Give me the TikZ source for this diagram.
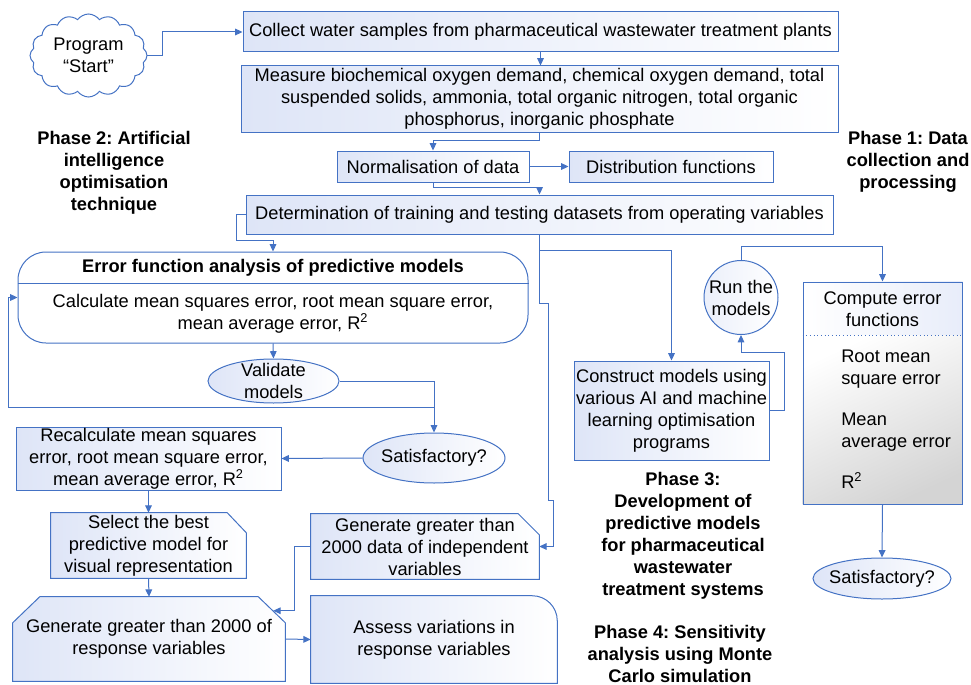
\documentclass[tikz,border=0pt]{standalone}
\usepackage{fontspec}
\setmainfont{Liberation Sans}
\usetikzlibrary{shapes.geometric,shapes.symbols,arrows.meta,backgrounds}
\definecolor{lineblue}{RGB}{68,114,196}
\definecolor{fillblue}{RGB}{222,229,247}
\newdimen\pxu \pxu=0.75pt
\newcommand\diagsize{\fontsize{13.7}{16.5}\selectfont\frenchspacing}
\tikzset{
  outline/.style={draw=lineblue,line width=0.75pt},
  flow/.style={draw=lineblue,line width=0.75pt,-{Triangle[length=5.5pt,width=5pt]}},
  procbox/.style={outline,left color=fillblue,right color=white,inner sep=0pt,align=center},
  cutbox/.style={inner sep=0pt,align=center},
  oval/.style={ellipse,outline,left color=fillblue,right color=white,inner sep=0pt},
  phase/.style={font=\diagsize\bfseries,align=center,inner sep=0pt},
}
\begin{document}
\begin{tikzpicture}[x=0.75pt,y=-0.75pt,font=\diagsize]
\useasboundingbox (0,0) rectangle (971,685);
% phase 1: data collection
\node[cloud,cloud puffs=16,cloud puff arc=110,aspect=1.4,outline,fill=white,inner sep=0pt,
  minimum width=117\pxu,minimum height=83\pxu,align=center] (start) at (88.5,55.5) {Program\\“Start”};
\node[procbox,minimum width=595\pxu,minimum height=40\pxu] (collect) at (540.5,32)
  {Collect water samples from pharmaceutical wastewater treatment plants};
\node[procbox,minimum width=597\pxu,minimum height=66\pxu] (measure) at (539.5,99)
  {Measure biochemical oxygen demand, chemical oxygen demand, total\\suspended solids, ammonia, total organic nitrogen, total organic\\phosphorus, inorganic phosphate};
\node[procbox,minimum width=192\pxu,minimum height=31\pxu] (norm) at (433,166.5) {Normalisation of data};
\node[procbox,minimum width=204\pxu,minimum height=31\pxu] (distr) at (671,166.5) {Distribution functions};
\node[procbox,minimum width=587\pxu,minimum height=39\pxu] (determ) at (539.5,214.5)
  {Determination of training and testing datasets from operating variables};

% phase labels
\node[phase] (phase1) at (908,162) {Phase 1: Data\\collection and\\processing};
\node[phase] (phase2) at (114,173) {Phase 2: Artificial\\intelligence\\optimisation\\technique};
\node[phase] (phase3) at (683,535.5) {Phase 3:\\Development of\\predictive models\\for pharmaceutical\\wastewater\\treatment systems};
\node[phase] (phase4) at (680,654) {Phase 4: Sensitivity\\analysis using Monte\\Carlo simulation};

% phase 2: error analysis
\node[outline,fill=white,rounded corners=21pt,minimum width=510\pxu,minimum height=91\pxu] (error) at (273,297.5) {};
\draw[outline] ([yshift=-24pt]error.north west) -- ([yshift=-24pt]error.north east);
\node[font=\diagsize\bfseries] (errtitle) at (273,268) {Error function analysis of predictive models};
\node[align=center] (errtext) at (273,314) {Calculate mean squares error, root mean square error,\\mean average error, R\textsuperscript{2}};
\node[oval,minimum width=131\pxu,minimum height=44\pxu,
  label={[align=center,inner sep=0pt]center:Validate\\models}] (valid) at (273.5,381) {};
\node[oval,minimum width=142\pxu,minimum height=50\pxu,label=center:Satisfactory?] (sat1) at (434,458) {};
\node[procbox,minimum width=265\pxu,minimum height=63\pxu] (recalc) at (148.5,458.5)
  {Recalculate mean squares\\error, root mean square error,\\mean average error, R\textsuperscript{2}};

% phase 4: monte carlo
\node[cutbox,minimum width=195\pxu,minimum height=65\pxu] (select) at (148.5,545.5) {Select the best\\predictive model for\\visual representation};
\node[cutbox,minimum width=272\pxu,minimum height=84\pxu] (genresp) at (149,639) {Generate greater than 2000 of\\response variables};
\node[cutbox,minimum width=228\pxu,minimum height=65\pxu] (genindep) at (425,546.5) {Generate greater than\\2000 data of independent\\variables};
\node[cutbox,minimum width=246\pxu,minimum height=87\pxu] (assess) at (434,639.5) {Assess variations in\\response variables};

% phase 3: models
\node[procbox,minimum width=195\pxu,minimum height=99\pxu] (construct) at (671.5,410.5)
  {Construct models using\\various AI and machine\\learning optimisation\\programs};
\node[circle,outline,left color=fillblue!60,right color=white,inner sep=0pt,minimum size=74\pxu,
  label={[align=center,inner sep=0pt]center:Run the\\models}] (run) at (741,297.5) {};
\node[outline,minimum width=159\pxu,minimum height=222\pxu] (compute) at (882.5,393) {};
\draw[outline,dotted] ([yshift=-40.5pt]compute.north west) -- ([yshift=-40.5pt]compute.north east);
\node[align=center] (comptitle) at (882.5,309) {Compute error\\functions};
\node[align=left,anchor=west,inner sep=0pt] (complist) at (841,419)
  {Root mean\\square error\\[14.25pt]Mean\\average error\\[14.25pt]R\textsuperscript{2}};
\node[oval,minimum width=138\pxu,minimum height=41\pxu,label=center:Satisfactory?] (sat2) at (882,578.5) {};

\begin{scope}[on background layer]
  \shade[left color=white,right color=fillblue!70] (compute.north west) rectangle ([yshift=-40.5pt]compute.north east);
  \shade[top color=white,bottom color=black!17,shading angle=25] ([yshift=-40.5pt]compute.north west) rectangle (compute.south east);
  \draw[outline,left color=fillblue,right color=white] (select.south west) -- (select.north west)
    -- ([xshift=-14.25pt]select.north east) -- ([yshift=-15pt]select.north east) -- (select.south east) -- cycle;
  \draw[outline,left color=fillblue,right color=white] (genresp.south west) -- ([yshift=-19.5pt]genresp.north west)
    -- ([xshift=20.25pt]genresp.north west) -- ([xshift=-20.25pt]genresp.north east)
    -- ([yshift=-19.5pt]genresp.north east) -- (genresp.south east) -- cycle;
  \draw[outline,left color=fillblue,right color=white] (genindep.south west) -- (genindep.north west)
    -- ([xshift=-15.75pt]genindep.north east) -- ([yshift=-15.75pt]genindep.north east) -- (genindep.south east) -- cycle;
  \draw[outline,left color=fillblue,right color=white] (assess.south west) -- (assess.north west)
    [rounded corners=18.75pt] -- (assess.north east) [sharp corners] -- (assess.south east) -- cycle;
\end{scope}

% connectors
\draw[flow] (start.east) -- ++(15,0) |- (collect.west);
\draw[flow] (collect.south) -- (collect.south |- measure.north);
\draw[flow] (measure.south) -- ++(0,8) -| (norm.north);
\draw[flow] (norm.east) -- (distr.west);
\draw[flow] (norm.south) -- ++(0,5) -| (determ.north);
\draw[flow] (determ.west) -- ++(-9,0) -- ++(0,26) -| (error.north);
\draw[flow] (determ.south) -- ++(0,16) -| (construct.north);
\draw[flow] (determ.south) -- ++(0,69) -- ++(9,0) -- ++(0,197) -- ++(5,0) |- (genindep.east);
\draw[flow] (construct.east) -- ++(15,0) -- ++(0,-58) -| (run.south);
\draw[flow] (run.north) -- ++(0,-13.5) -| (compute.north);
\draw[flow] (compute.south) -- (sat2.north);
\draw[flow] (error.south) -- (valid.north);
\draw[flow] (valid.east) -| (sat1.north);
\coordinate (loopturn) at (8,407);
\draw[flow] (sat1.north |- loopturn) -- (loopturn) |- (error.west);
\draw[flow] (sat1.west) -- (recalc.east);
\draw[flow] (recalc.south) -- (select.north);
\draw[flow] (select.south) -- (genresp.north);
\draw[flow] (genindep.west) -- ++(-16,0) |- ([xshift=-9pt,yshift=-10.5pt]genresp.north east);
\draw[flow] (genresp.east) -- (assess.west);
\end{tikzpicture}
\end{document}
